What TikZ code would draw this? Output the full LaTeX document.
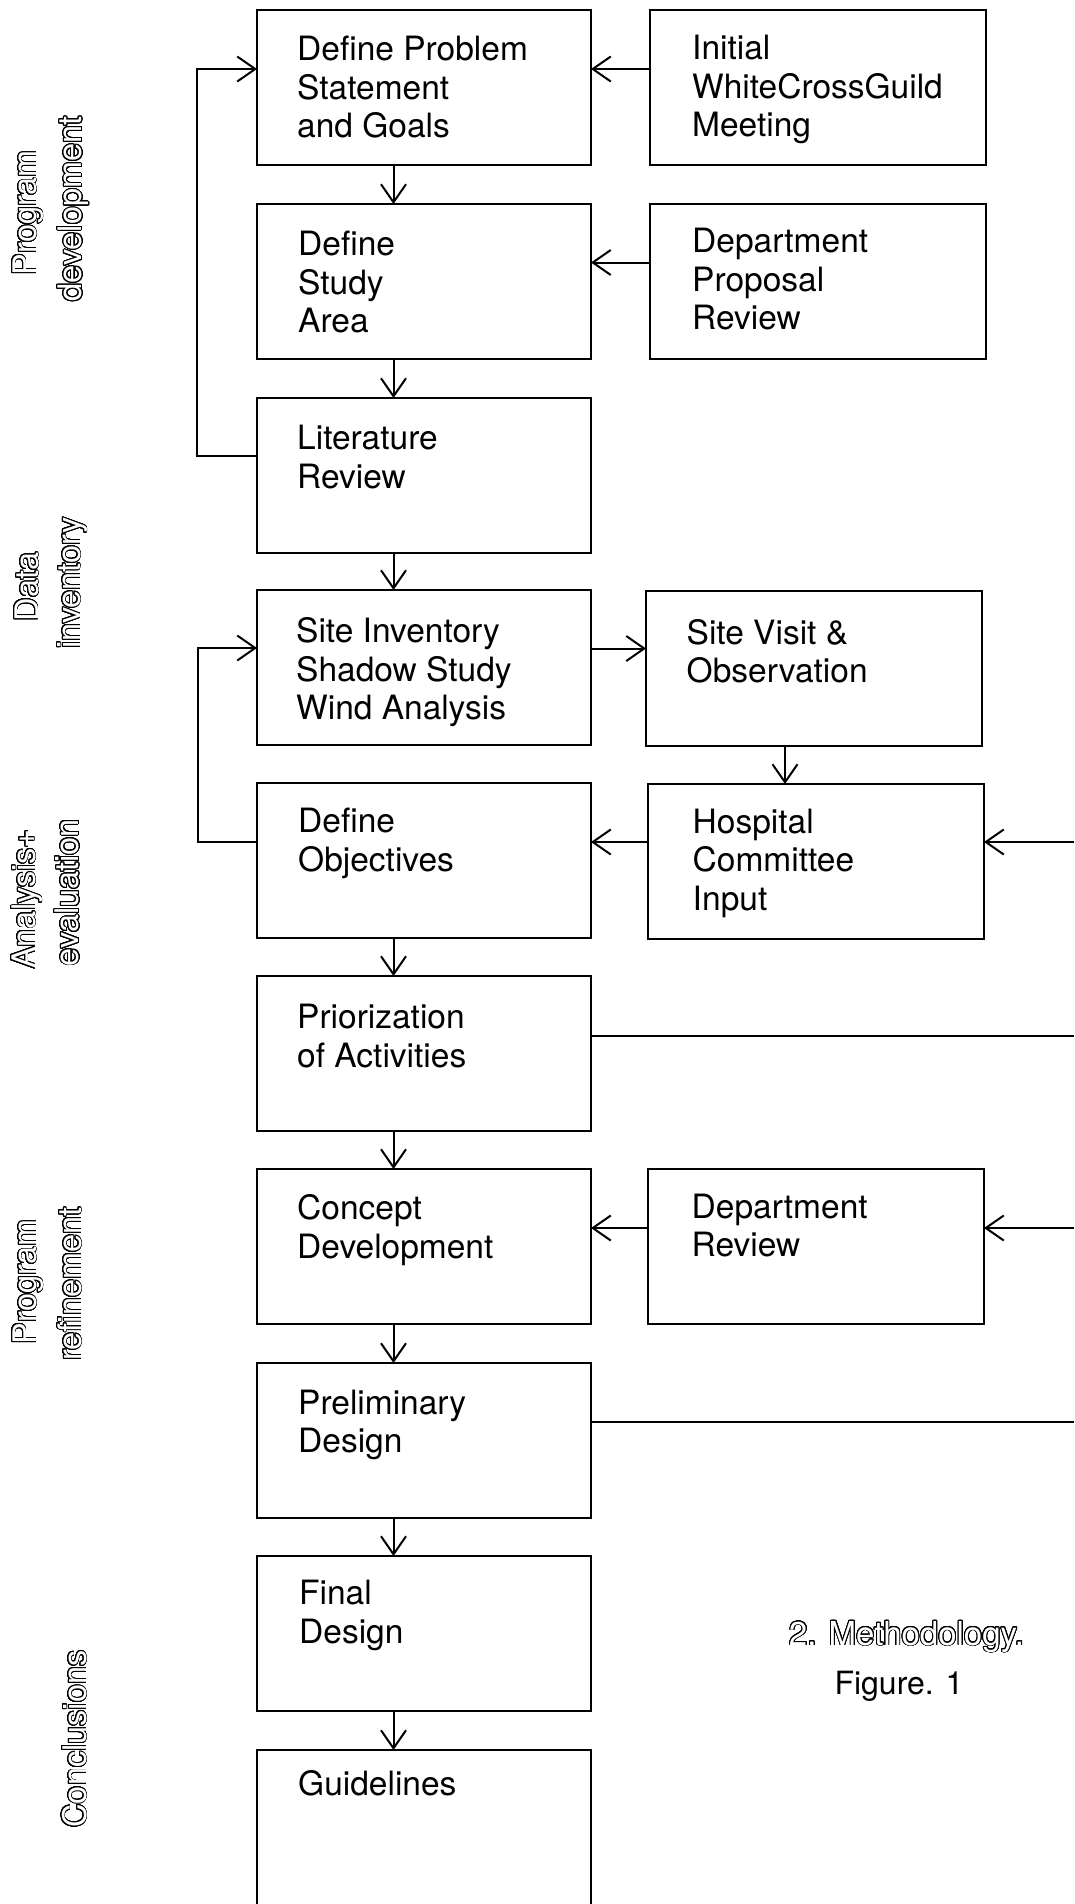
\documentclass[tikz,border=0pt]{standalone}
\usepackage{fontspec}
\setmainfont{TeX Gyre Heros}
\usepackage[copies]{contour}
\contourlength{0.95pt}
\contournumber{32}
\usetikzlibrary{arrows.meta}
\newcommand{\hollow}[1]{{\color{white}\contour{black}{#1}}}
\newcommand{\lines}[1]{\begin{tabular}[t]{@{}l@{}}#1\end{tabular}}
\begin{document}
\begin{tikzpicture}[x=1pt,y=-1pt,
  box/.style={draw, line width=2pt, minimum width=334pt, minimum height=155pt, anchor=north west, inner sep=0pt, outer sep=0pt},
  sbox/.style={box, minimum width=336pt},
  txt/.style={anchor=base west, inner sep=0pt, font=\fontsize{33.5}{38.5}\selectfont},
  lab/.style={anchor=base, rotate=90, inner sep=0pt, font=\fontsize{32.5}{38}\selectfont},
  conn/.style={line width=2pt},
  arr/.style={conn, -{Straight Barb[length=18pt,width=25pt]}},
]
\useasboundingbox (0,0) rectangle (1074,1904);
\fill[white] (0,0) rectangle (1074,1904);
\clip (0,0) rectangle (1074,1904);
\coordinate (edge) at (1074,0);

% main column
\node[box] (b1) at (257,10) {};
\node[box] (b2) at (257,204) {};
\node[box] (b3) at (257,398) {};
\node[box] (b4) at (257,590) {};
\node[box] (b5) at (257,783) {};
\node[box] (b6) at (257,976) {};
\node[box] (b7) at (257,1169) {};
\node[box] (b8) at (257,1363) {};
\node[box] (b9) at (257,1556) {};
\node[box, minimum height=200pt] (b10) at (257,1750) {};
% side boxes
\node[sbox] (r1) at (650,10) {};
\node[sbox] (r2) at (650,204) {};
\node[sbox] (r3) at (646,591) {};
\node[sbox] (r4) at (648,784) {};
\node[sbox] (r5) at (648,1169) {};

% texts
\node[txt] (t1) at (297,60.5) {\lines{Define Problem\\Statement\\and Goals}};
\node[txt] (t2) at (298,255.5) {\lines{Define\\Study\\Area}};
\node[txt] (t3) at (297,449.5) {\lines{Literature\\Review}};
\node[txt] (t4) at (296,642.5) {\lines{Site Inventory\\Shadow Study\\Wind Analysis}};
\node[txt] (t5) at (298,832.5) {\lines{Define\\Objectives}};
\node[txt] (t6) at (297,1028.5) {\lines{Priorization\\of Activities}};
\node[txt] (t7) at (297,1219.5) {\lines{Concept\\Development}};
\node[txt] (t8) at (298,1414) {\lines{Preliminary\\Design}};
\node[txt] (t9) at (299,1604.5) {\lines{Final\\Design}};
\node[txt] (t10) at (298,1795.5) {Guidelines};
\node[txt] (s1) at (692,59.5) {\lines{Initial\\WhiteCrossGuild\\Meeting}};
\node[txt] (s2) at (692,252.5) {\lines{Department\\Proposal\\Review}};
\node[txt] (s3) at (686.5,644) {\lines{Site Visit \&\\Observation}};
\node[txt] (s4) at (692.5,833) {\lines{Hospital\\Committee\\Input}};
\node[txt] (s5) at (691.5,1218) {\lines{Department\\Review}};

% vertical flow arrows
\foreach \a/\b in {b1/b2,b2/b3,b3/b4,b5/b6,b6/b7,b7/b8,b8/b9,b9/b10}
  \draw[arr] ([xshift=-30.5pt]\a.south) -- ([xshift=-30.5pt]\a.south |- \b.north);

% side inputs
\draw[arr] ([yshift=18.5pt]r1.west) -- ([yshift=18.5pt]r1.west -| b1.east);
\draw[arr] ([yshift=19pt]r2.west) -- ([yshift=19pt]r2.west -| b2.east);
\draw[arr] ([yshift=19pt]b4.east) -- ([yshift=19pt]b4.east -| r3.west);
\draw[arr] ([xshift=-29pt]r3.south) -- ([xshift=-29pt]r3.south |- r4.north);
\draw[arr] ([yshift=19.5pt]r4.west) -- ([yshift=19.5pt]r4.west -| b5.east);
\draw[arr] ([yshift=18.5pt]r5.west) -- ([yshift=18.5pt]r5.west -| b7.east);

% feedback loops
\draw[arr] ([yshift=19.5pt]b3.west) -- ++(-60,0) |- ([yshift=18.5pt]b1.west);
\draw[arr] ([yshift=18.5pt]b5.west) -- ++(-59,0) |- ([yshift=19.5pt]b4.west);

% lines to and from the right edge
\draw[arr] ([yshift=19.5pt]r4.east -| edge) -- ([yshift=19.5pt]r4.east);
\draw[conn] ([yshift=18pt]b6.east) -- ([yshift=18pt]b6.east -| edge);
\draw[arr] ([yshift=18.5pt]r5.east -| edge) -- ([yshift=18.5pt]r5.east);
\draw[conn] ([yshift=18.5pt]b8.east) -- ([yshift=18.5pt]b8.east -| edge);

% phase labels
\node[lab] (l1a) at (36,213) {\hollow{Program}};
\node[lab] (l1b) at (81.5,209) {\hollow{development}};
\node[lab] (l2a) at (38,587) {\hollow{Data}};
\node[lab] (l2b) at (80,583) {\hollow{inventory}};
\node[lab] (l3a) at (35,899) {\hollow{Analysis+}};
\node[lab] (l3b) at (78.5,892.5) {\hollow{evaluation}};
\node[lab] (l4a) at (36,1282) {\hollow{Program}};
\node[lab] (l4b) at (81,1284) {\hollow{refinement}};
\node[lab] (l5) at (86,1739) {\hollow{Conclusions}};

% caption
\node[anchor=base, inner sep=0pt, font=\fontsize{33}{38}\selectfont] (cap1) at (906.5,1645) {\hollow{2. Methodology.}};
\node[anchor=base, inner sep=0pt, font=\fontsize{32}{38}\selectfont] (cap2) at (899,1694) {Figure. 1};
\end{tikzpicture}
\end{document}
